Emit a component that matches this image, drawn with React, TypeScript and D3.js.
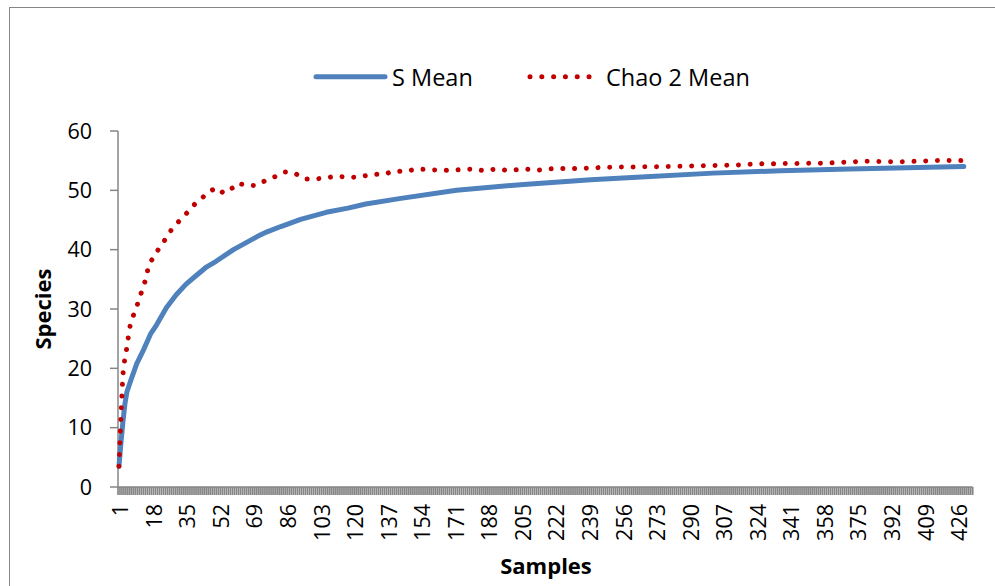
import React from "react";
import * as d3 from "d3";

const categoryCount = 433;
const categories: number[] = d3.range(1, categoryCount + 1);
const xTickLabels: string[] = ["1","18","35","52","69","86","103","120","137","154","171","188","205","222","239","256","273","290","307","324","341","358","375","392","409","426"];
const yTicks: number[] = [0, 10, 20, 30, 40, 50, 60];

const sSamples: number[] = [1,2,3,4,5,7,10,13,17,20,25,30,35,40,45,50,59,65,71,76,83,93,106,117,126,143,172,206,240,268,302,336,371,400,429];
const sValues: number[] = [3.5,7.5,11,14,16,18,20.8,22.8,25.8,27.3,30.2,32.4,34.2,35.6,37,38,40,41.1,42.2,43,43.9,45.1,46.3,47,47.7,48.6,50,51,51.8,52.3,52.9,53.3,53.6,53.8,54];

const chaoSamples: number[] = [1,2,3,4,5,6,7,8,10,11,13,15,16,19,22,25,28,32,36,40,43,47,51,54,59,61,65,70,75,80,85,90,95,100,106,111,117,123,129,135,140,146,152,158,163,169,175,181,186,192,198,207,213,219,224,236,248,278,295,313,325,336,360,378,396,413,419,429];
const chaoValues: number[] = [3.5,12,19,21.8,23.5,26,27.8,28.7,30.3,31.7,33.3,35.6,37.4,39,40.6,42,43.6,45,46.4,47.9,48.7,49.9,50.4,49.5,50.5,51.2,50.9,50.8,51.6,52.3,53.1,52.9,51.9,51.9,52.1,52.4,52.2,52.25,52.7,52.7,53.2,53.2,53.6,53.5,53.4,53.4,53.5,53.6,53.3,53.6,53.35,53.6,53.4,53.6,53.7,53.7,53.9,54,54.15,54.25,54.5,54.5,54.6,54.9,54.8,55,55.05,55];

const seriesNames: string[] = ["S Mean", "Chao 2 Mean"];

const W = 995;
const H = 586;
const FONT = "'Open Sans', 'Noto Sans', sans-serif";
const GRAY = "#868686";
const BLUE = "#4F81BD";
const RED = "#C00000";

export default function App() {
  const x = d3.scaleBand<number>().domain(categories).range([118, 972.7]).paddingInner(0).paddingOuter(0);
  const bw = x.bandwidth();
  const cx = (s: number) => (x(s) as number) + bw / 2;
  const y = d3.scaleLinear().domain([0, 60]).range([487, 131]);

  const line = d3.line<[number, number]>().x((d) => cx(d[0])).y((d) => y(d[1])).curve(d3.curveLinear);
  const sPath = line(sSamples.map((s, i) => [s, sValues[i]] as [number, number])) || "";
  const chaoPath = line(chaoSamples.map((s, i) => [s, chaoValues[i]] as [number, number])) || "";

  const boundaries = d3.range(0, categoryCount + 1).map((i) => 118 + i * bw);

  return (
    <svg width={W} height={H} style={{ position: "absolute", left: 0, top: 0, background: "#fff" }} fontFamily={FONT}>
      <rect x={0} y={0} width={W} height={H} fill="#fff" />
      <rect x={9.5} y={7.5} width={W + 20} height={H + 20} fill="none" stroke={GRAY} strokeWidth={1} />

      {/* Legend */}
      <line x1={316} x2={385} y1={76.7} y2={76.7} stroke={BLUE} strokeWidth={5} strokeLinecap="round" />
      <text x={392} y={86} fontSize={23.5} fill="#000">{seriesNames[0]}</text>
      <line x1={530} x2={592} y1={76.7} y2={76.7} stroke={RED} strokeWidth={5} strokeLinecap="round" strokeDasharray="0.01 11.8" />
      <text x={606} y={86} fontSize={23.5} fill="#000">{seriesNames[1]}</text>

      {/* Y axis */}
      <line x1={118} x2={118} y1={y(60)} y2={y(0)} stroke={GRAY} strokeWidth={1.5} />
      {yTicks.map((t) => (
        <g key={t}>
          <line x1={110} x2={118} y1={y(t)} y2={y(t)} stroke={GRAY} strokeWidth={1.5} />
          <text x={92} y={y(t)} dy="0.36em" textAnchor="end" fontSize={21.5} fill="#000">{t}</text>
        </g>
      ))}

      {/* X axis */}
      <line x1={118} x2={118 + categoryCount * bw} y1={487} y2={487} stroke={GRAY} strokeWidth={1.5} />
      {boundaries.map((bx, i) => (
        <line key={i} x1={bx} x2={bx} y1={487} y2={495} stroke={GRAY} strokeWidth={1.7} />
      ))}
      {xTickLabels.map((lab) => {
        const px = cx(+lab) + 1.5;
        return (
          <text key={lab} transform={`translate(${px},504) rotate(-90)`} dy="0.36em" textAnchor="end" fontSize={21.5} fill="#000">{lab}</text>
        );
      })}

      {/* Axis titles */}
      <text transform={`translate(51,309) rotate(-90)`} textAnchor="middle" fontSize={22} fontWeight="bold" fill="#000">Species</text>
      <text x={546} y={574} textAnchor="middle" fontSize={22} fontWeight="bold" fill="#000">Samples</text>

      {/* Series */}
      <path d={sPath} fill="none" stroke={BLUE} strokeWidth={5} strokeLinecap="round" strokeLinejoin="round" />
      <path d={chaoPath} fill="none" stroke={RED} strokeWidth={5} strokeLinecap="round" strokeLinejoin="round" strokeDasharray="0.01 11.7" />
    </svg>
  );
}
